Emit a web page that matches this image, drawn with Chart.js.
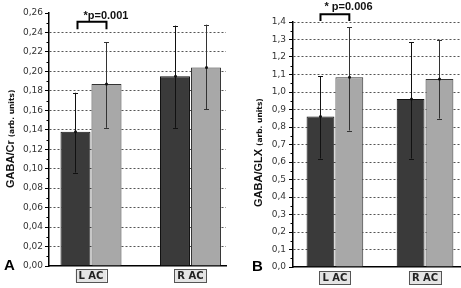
<!DOCTYPE html>
<html>
<head>
<meta charset="utf-8">
<script src="https://cdn.jsdelivr.net/npm/chart.js@4/dist/chart.umd.min.js"></script>
<style>
  html, body { margin: 0; padding: 0; background: #fff; }
  #wrapA { position: absolute; left: 0; top: 0; width: 230px; height: 288px; }
  #wrapB { position: absolute; left: 230px; top: 0; width: 231px; height: 288px; }
</style>
</head>
<body>
<div id="wrapA"><canvas id="chartA" width="230" height="288"></canvas></div>
<div id="wrapB"><canvas id="chartB" width="231" height="288"></canvas></div>
<script>
// Categorías y valores
const categories = ['L AC', 'R AC'];

// Panel A: GABA/Cr
const meanA1 = [0.138, 0.195];
const meanA2 = [0.187, 0.204];
const lowA1 = [0.096, 0.142];
const highA1 = [0.178, 0.247];
const lowA2 = [0.142, 0.161];
const highA2 = [0.230, 0.248];
const sigA = { text: '*p=0.001', top: 0.2511, leg: 0.2432 };

// Panel B: GABA/GLX
const meanB1 = [0.86, 0.96];
const meanB2 = [1.085, 1.075];
const lowB1 = [0.62, 0.62];
const highB1 = [1.09, 1.285];
const lowB2 = [0.78, 0.848];
const highB2 = [1.37, 1.295];
const sigB = { text: '* p=0.006', top: 1.444, leg: 1.406 };

const DARK = '#3a3a3a';
const LIGHT = '#a8a8a8';

Chart.defaults.font.family = 'DejaVu Sans';

// Configuración de cada panel, por id del canvas
const panelConfigs = {};

// Plugin para barras de error, ticks menores, corchete, títulos y cajas de etiquetas
const extrasPlugin = {
    id: 'extras',
    beforeDraw(chart) {
        const c = panelConfigs[chart.canvas.id];
        const ctx = chart.ctx;
        const xs = chart.scales.x;
        ctx.save();
        ctx.font = 'bold 10px "DejaVu Sans"';
        xs.ticks.forEach(t => {
            const label = categories[Math.round(t.value) - 1];
            const w = ctx.measureText(label).width;
            const px = xs.getPixelForValue(t.value);
            const top = xs.top + c.boxTop;
            ctx.fillStyle = '#e4e4e4';
            ctx.fillRect(px - w / 2 - 3, top, w + 6, 13);
            ctx.strokeStyle = '#555';
            ctx.lineWidth = 1;
            ctx.strokeRect(Math.round(px - w / 2 - 3) + 0.5, Math.round(top) + 0.5, Math.round(w + 6), 13);
        });
        ctx.restore();
    },
    afterDraw(chart) {
        const c = panelConfigs[chart.canvas.id];
        const ctx = chart.ctx;
        const ys = chart.scales.y;
        const area = chart.chartArea;
        ctx.save();

        // ticks menores
        ctx.strokeStyle = '#000';
        ctx.lineWidth = 1;
        for (let i = 0; i < ys.ticks.length - 1; i++) {
            const mid = (ys.ticks[i].value + ys.ticks[i + 1].value) / 2;
            const py = Math.round(ys.getPixelForValue(mid)) + 0.5;
            ctx.beginPath();
            ctx.moveTo(area.left - 2.5, py);
            ctx.lineTo(area.left, py);
            ctx.stroke();
        }

        // barras de error
        chart.data.datasets.forEach((ds, di) => {
            const meta = chart.getDatasetMeta(di);
            meta.data.forEach((bar, i) => {
                const x = Math.round(bar.x) + 0.5;
                const yLo = ys.getPixelForValue(ds.low[i]);
                const yHi = ys.getPixelForValue(ds.high[i]);
                ctx.strokeStyle = di === 0 ? '#111' : '#333';
                ctx.lineWidth = 1;
                ctx.beginPath();
                ctx.moveTo(x, yLo);
                ctx.lineTo(x, yHi);
                ctx.moveTo(x - 2.5, Math.round(yHi) + 0.5);
                ctx.lineTo(x + 2.5, Math.round(yHi) + 0.5);
                ctx.moveTo(x - 2.5, Math.round(yLo) + 0.5);
                ctx.lineTo(x + 2.5, Math.round(yLo) + 0.5);
                ctx.stroke();
                ctx.fillStyle = '#111';
                ctx.beginPath();
                ctx.arc(x, bar.y, 1.5, 0, Math.PI * 2);
                ctx.fill();
            });
        });

        // corchete de significancia
        const b0 = chart.getDatasetMeta(0).data[0];
        const b1 = chart.getDatasetMeta(1).data[0];
        const yTop = ys.getPixelForValue(c.sig.top);
        const yLeg = ys.getPixelForValue(c.sig.leg);
        ctx.strokeStyle = '#000';
        ctx.lineWidth = 2;
        ctx.beginPath();
        ctx.moveTo(b0.x + c.bracketShift, yLeg);
        ctx.lineTo(b0.x + c.bracketShift, yTop);
        ctx.lineTo(b1.x, yTop);
        ctx.lineTo(b1.x, yLeg);
        ctx.stroke();
        ctx.fillStyle = '#111';
        ctx.font = 'bold 11px "Liberation Sans"';
        ctx.textAlign = 'left';
        ctx.textBaseline = 'alphabetic';
        ctx.fillText(c.sig.text, b0.x + c.textShift, c.textY);

        // título del eje Y (dos tamaños)
        ctx.translate(c.titleX, c.titleY);
        ctx.rotate(-Math.PI / 2);
        ctx.font = 'bold 11px "Liberation Sans"';
        ctx.fillText(c.title, 0, 0);
        const w = ctx.measureText(c.title).width;
        ctx.font = 'bold 7.5px "DejaVu Sans"';
        ctx.fillText('(arb. units)', w + 3, 0);
        ctx.setTransform(1, 0, 0, 1, 0, 0);

        // letra del panel
        ctx.font = 'bold 15px "Liberation Sans"';
        ctx.fillStyle = '#000';
        ctx.fillText(c.letter, c.letterX, c.letterY);
        ctx.restore();
    }
};

function createPanel(canvasId, cfg) {
    panelConfigs[canvasId] = cfg;
    const toPoints = arr => arr.map((v, i) => ({ x: i + 1, y: v }));
    return new Chart(document.getElementById(canvasId), {
        type: 'bar',
        data: {
            datasets: [
                {
                    data: toPoints(cfg.mean1),
                    low: cfg.low1,
                    high: cfg.high1,
                    backgroundColor: DARK,
                    borderColor: '#111',
                    borderWidth: 1,
                    categoryPercentage: cfg.catPct,
                    barPercentage: cfg.barPct
                },
                {
                    data: toPoints(cfg.mean2),
                    low: cfg.low2,
                    high: cfg.high2,
                    backgroundColor: LIGHT,
                    borderColor: '#333',
                    borderWidth: 1,
                    categoryPercentage: cfg.catPct,
                    barPercentage: cfg.barPct
                }
            ]
        },
        options: {
            responsive: false,
            animation: false,
            layout: { padding: cfg.padding },
            plugins: {
                legend: { display: false },
                tooltip: { enabled: false }
            },
            scales: {
                x: {
                    type: 'linear',
                    offset: false,
                    min: cfg.xMin,
                    max: cfg.xMax,
                    afterBuildTicks: scale => { scale.ticks = [{ value: 1 }, { value: 2 }]; },
                    afterFit: scale => { scale.height = cfg.xHeight; },
                    grid: { display: false, drawTicks: false, offset: false },
                    border: { display: true, color: '#000', width: 1.5 },
                    ticks: {
                        padding: cfg.xPad,
                        color: '#222',
                        font: { size: 10, weight: 'bold' },
                        callback: v => categories[Math.round(v) - 1]
                    }
                },
                y: {
                    min: 0,
                    max: cfg.yMax,
                    z: 1,
                    afterFit: scale => { scale.width = cfg.yWidth; },
                    grid: {
                        color: c => (c.tick.value === 0 || c.tick.value > cfg.gridTop) ? 'rgba(0,0,0,0)' : '#555',
                        tickColor: '#000',
                        tickLength: 4,
                        lineWidth: 1
                    },
                    border: { display: true, color: '#000', width: 1.5, dash: [2, 2] },
                    ticks: {
                        stepSize: cfg.step,
                        padding: cfg.yPad,
                        color: '#333',
                        font: { size: 9 },
                        callback: v => v.toFixed(cfg.digits).replace('.', ',')
                    }
                }
            }
        },
        plugins: [extrasPlugin]
    });
}

// Configuración por panel
const panelA = {
    mean1: meanA1, mean2: meanA2, low1: lowA1, high1: highA1, low2: lowA2, high2: highA2,
    yMax: 0.26, step: 0.02, digits: 2, gridTop: 0.25,
    xMin: 0.578, xMax: 2.357, catPct: 0.623, barPct: 0.968,
    padding: { left: 0, right: 4, top: 13, bottom: 0 },
    yWidth: 49, xHeight: 22, xPad: 4, yPad: 2, boxTop: 3,
    sig: sigA, bracketShift: 2, textShift: 8, textY: 18.5,
    title: 'GABA/Cr', titleX: 14, titleY: 188,
    letter: 'A', letterX: 4, letterY: 270
};
const panelB = {
    mean1: meanB1, mean2: meanB2, low1: lowB1, high1: highB1, low2: lowB2, high2: highB2,
    yMax: 1.4, step: 0.1, digits: 1, gridTop: 1.45,
    xMin: 0.535, xMax: 2.388, catPct: 0.64, barPct: 0.965,
    padding: { left: 0, right: 1, top: 22, bottom: 0 },
    yWidth: 63, xHeight: 21, xPad: 5, yPad: 3, boxTop: 4,
    sig: sigB, bracketShift: 0, textShift: 4, textY: 9.5,
    title: 'GABA/GLX', titleX: 32, titleY: 207,
    letter: 'B', letterX: 22, letterY: 271
};

createPanel('chartA', panelA);
createPanel('chartB', panelB);
</script>
</body>
</html>
